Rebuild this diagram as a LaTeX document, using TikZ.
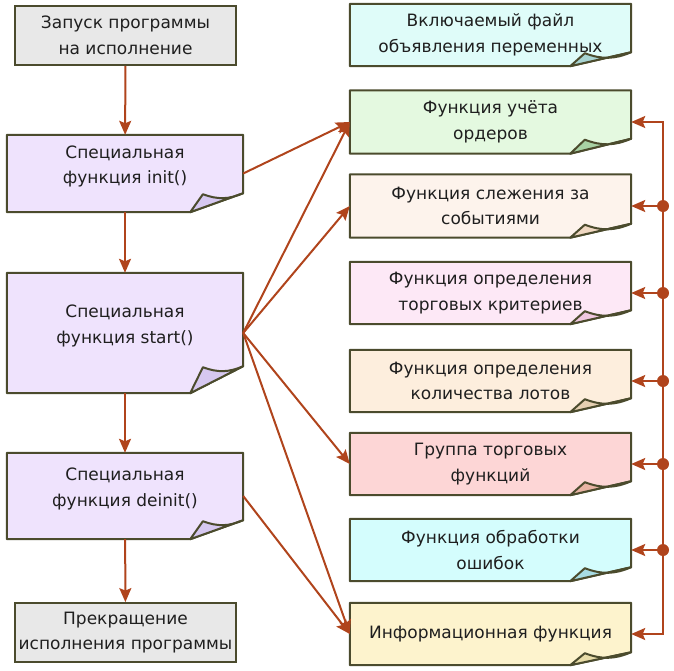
\documentclass[tikz,border=0pt]{standalone}
\usepackage{fontspec}
\setmainfont{DejaVu Sans}
\usetikzlibrary{arrows.meta,backgrounds}
\definecolor{edge}{HTML}{4B4B2D}
\definecolor{arrow}{HTML}{B0441C}
\definecolor{stone}{HTML}{E8E8E8}
\definecolor{lilac}{HTML}{EFE3FD}  \definecolor{lilacF}{HTML}{D6C8F0}
\definecolor{aqua}{HTML}{DFFCF9}   \definecolor{aquaF}{HTML}{A8D4D2}
\definecolor{mint}{HTML}{E4F9E0}   \definecolor{mintF}{HTML}{A8D2A4}
\definecolor{peach}{HTML}{FDF3EC}  \definecolor{peachF}{HTML}{F0D8C2}
\definecolor{blush}{HTML}{FDE8F6}  \definecolor{blushF}{HTML}{F0C8E0}
\definecolor{sand}{HTML}{FDEEDD}   \definecolor{sandF}{HTML}{E6D0B2}
\definecolor{rose}{HTML}{FDD6D6}   \definecolor{roseF}{HTML}{E8B4A4}
\definecolor{ice}{HTML}{D4FDFD}    \definecolor{iceF}{HTML}{A8DCE4}
\definecolor{cream}{HTML}{FDF3CD}  \definecolor{creamF}{HTML}{E8DCA8}
\begin{document}
\begin{tikzpicture}[x=1pt,y=-1pt,
        font=\fontsize{17}{25.5}\selectfont, text=black!88,
        >={Stealth[length=14pt,width=12pt,inset=2.5pt]},
        box/.style={draw=edge,line width=1.8pt,fill=stone,minimum width=221pt,minimum height=59pt,align=center,inner sep=0pt},
        note/.style={minimum width=#1,align=center,inner sep=0pt},
        rim/.style={draw=edge,line width=2pt,line join=round},
        link/.style={draw=arrow,line width=2pt,->}]
    \useasboundingbox (0,0) rectangle (674,670);
    % left column
    \node[box] (run) at (125.5,35.5) {Запуск программы\\на исполнение};
    \node[note=236pt,minimum height=77pt] (init) at (125,173.5) {Специальная\\функция init()\\[-8pt]};
    \node[note=236pt,minimum height=120pt] (start) at (125,333) {Специальная\\функция start()\\[-8pt]};
    \node[note=236pt,minimum height=86pt] (deinit) at (125,496) {Специальная\\функция deinit()\\[-8pt]};
    \node[box] (stop) at (125.5,632.5) {Прекращение\\исполнения программы};
    % right column
    \node[note=281pt,minimum height=62pt] (incl) at (490.5,35) {Включаемый файл\\объявления переменных};
    \node[note=281pt,minimum height=63pt] (orders) at (490.5,122) {Функция учёта\\ордеров};
    \node[note=281pt,minimum height=63pt] (events) at (490.5,206) {Функция слежения за\\событиями};
    \node[note=281pt,minimum height=62pt] (criteria) at (490.5,293) {Функция определения\\торговых критериев};
    \node[note=281pt,minimum height=62pt] (lots) at (490.5,381) {Функция определения\\количества лотов};
    \node[note=281pt,minimum height=62pt] (trade) at (490.5,464) {Группа торговых\\функций};
    \node[note=281pt,minimum height=62pt] (errors) at (490.5,550) {Функция обработки\\ошибок};
    \node[note=281pt,minimum height=62pt] (info) at (490.5,634) {Информационная функция};
    % sheets with a turned corner
    \begin{scope}[on background layer]
        \foreach \n/\col/\dx/\dy in {init/lilac/53/19, start/lilac/53/27, deinit/lilac/53/19,
                incl/aqua/61/14, orders/mint/61/15, events/peach/61/14, criteria/blush/61/14,
                lots/sand/61/14, trade/rose/61/14, errors/ice/61/14, info/cream/61/13} {
            \draw[rim,fill=\col] (\n.north west) -- (\n.north east) -- ([yshift=\dy]\n.south east)
                -- ([xshift=-\dx]\n.south east) -- (\n.south west) -- cycle;
            \draw[rim,fill=\col F] ([xshift=-\dx]\n.south east) -- ([xshift=-0.76*\dx,yshift=\dy-1]\n.south east)
                to[bend right=22] ([yshift=\dy]\n.south east) -- cycle;
        }
    \end{scope}
    % arrows
    \draw[link] (run) -- (init);
    \draw[link] (init) -- (start);
    \draw[link] (start) -- (deinit);
    \draw[link] (deinit) -- (stop);
    \foreach \a/\b in {init/orders, start/orders, start/events, start/trade, start/info, deinit/info}
        \draw[link] (\a.east) -- (\b.west);
    \coordinate (bus) at (663,0);
    \draw[link,<->] (orders.east) -- (bus |- orders.east) -- (bus |- info.east) -- (info.east);
    \foreach \n in {events,criteria,lots,trade,errors} {
        \draw[link] (bus |- \n.east) -- (\n.east);
        \fill[arrow] (bus |- \n.east) circle (6pt);
    }
\end{tikzpicture}
\end{document}
